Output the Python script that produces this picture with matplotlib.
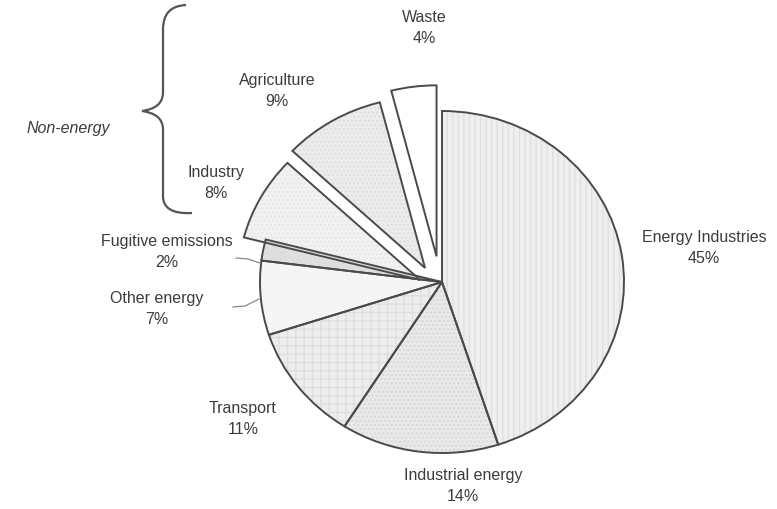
import matplotlib
matplotlib.use("Agg")
import matplotlib.pyplot as plt
from matplotlib.path import Path
from matplotlib.patches import PathPatch

# Emission shares by source (%), counter-clockwise from 12 o'clock
categories = ["Waste", "Agriculture", "Industry", "Fugitive emissions",
              "Other energy", "Transport", "Industrial energy", "Energy Industries"]
shares = [4, 9, 8, 2, 7, 11, 14, 45]
fills = ["#ffffff", "#ececec", "#f2f2f2", "#dedede",
         "#f5f5f5", "#ededed", "#e9e9e9", "#efefef"]
textures = [None, "....", "....", None, None, "++", "....", "|||"]
texture_colors = ["#ffffff", "#dedede", "#e6e6e6", "#dedede",
                  "#f5f5f5", "#dedede", "#d8d8d8", "#e0e0e0"]
# pulled-out non-energy wedges: displacement of each wedge (in pie radii)
pull_out = [(-0.03, 0.15), (-0.093, 0.082), (-0.12, 0.012),
            (0, 0), (0, 0), (0, 0), (0, 0), (0, 0)]

# Label anchors in pixels (x, y from top) of the 777x509 canvas
label_pos = [(424, 28), (277, 91), (216, 183), (167, 252),
             (157, 309), (243, 419), (463, 486), (704, 248)]

W, H = 777, 509
cx, cy, rx, ry = 442, 282, 182, 171

fig = plt.figure(figsize=(W / 100, H / 100), dpi=100)
ax = fig.add_axes([0, 0, 1, 1])


def draw_pie(**wedgeprops):
    wedges, _ = ax.pie(shares, startangle=90, counterclock=True, radius=1.0,
                       wedgeprops=wedgeprops)
    for w, d in zip(wedges, pull_out):
        w.set_center(d)
    return wedges


# textured fill pass
fill_wedges = draw_pie(linewidth=0)
for w, fc, h, hc in zip(fill_wedges, fills, textures, texture_colors):
    w.set_facecolor(fc)
    if h:
        w.set_hatch(h)
        w.set_edgecolor(hc)
        w.set_linewidth(0)

# outline pass
draw_pie(facecolor="none", edgecolor="#4a4a4a", linewidth=1.4)

ax.set_aspect("auto")
ax.set_xlim(-cx / rx, (W - cx) / rx)
ax.set_ylim((cy - H) / ry, cy / ry)
ax.axis("off")

# overlay in pixel coordinates for labels and annotations
ov = fig.add_axes([0, 0, 1, 1])
ov.set_xlim(0, W)
ov.set_ylim(H, 0)
ov.axis("off")
ov.patch.set_alpha(0)

txt = dict(fontsize=11.5, color="#3c3c3c", ha="center", va="center",
           family="Liberation Sans", linespacing=1.45)
for name, val, (x, y) in zip(categories, shares, label_pos):
    ov.text(x, y, f"{name}\n{val}%", **txt)

ov.text(68, 129, "Non-energy", fontsize=11.5, color="#3c3c3c", ha="center",
        va="center", family="Liberation Sans", style="italic")

# leader lines for the two small energy slices
lc = dict(color="#8a8a8a", linewidth=0.9)
ov.plot([236, 248, 260], [258, 259, 263], **lc)
ov.plot([233, 245, 259], [307, 306, 299], **lc)

# curly brace grouping the non-energy sources
verts = [(186, 5), (170, 6), (163, 14), (163, 30),
         (163, 92),
         (163, 104), (155, 109), (142, 111),
         (155, 113), (163, 118), (163, 130),
         (163, 196),
         (163, 208), (172, 214), (192, 213)]
codes = [Path.MOVETO, Path.CURVE4, Path.CURVE4, Path.CURVE4,
         Path.LINETO,
         Path.CURVE4, Path.CURVE4, Path.CURVE4,
         Path.CURVE4, Path.CURVE4, Path.CURVE4,
         Path.LINETO,
         Path.CURVE4, Path.CURVE4, Path.CURVE4]
ov.add_patch(PathPatch(Path(verts, codes), facecolor="none",
                       edgecolor="#555555", linewidth=1.6))

fig.savefig("out.png", dpi=100, facecolor="white")
